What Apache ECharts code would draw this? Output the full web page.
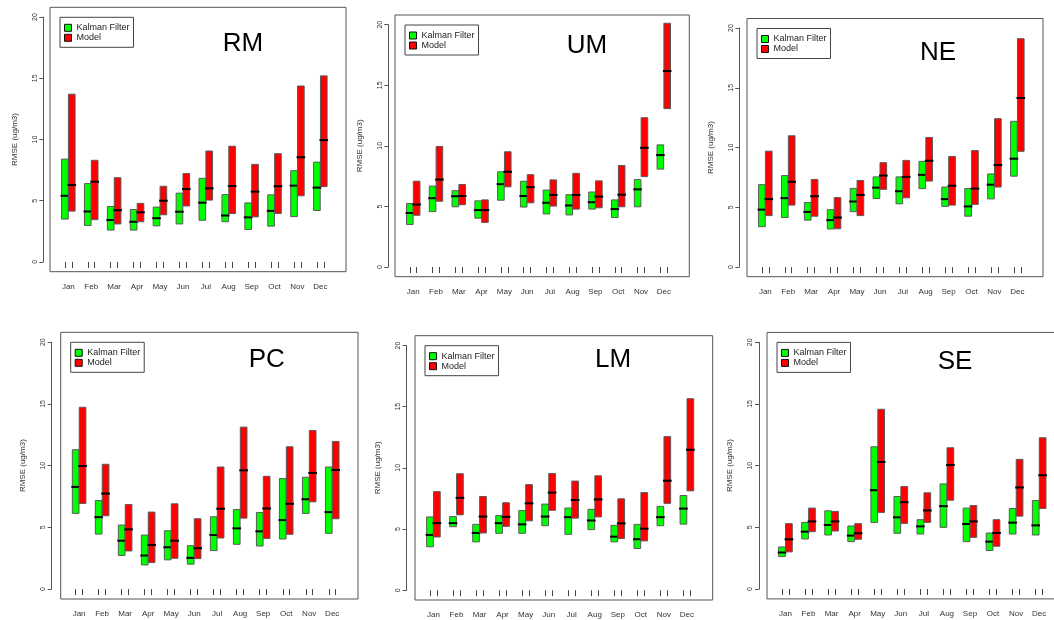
<!DOCTYPE html>
<html>
<head>
<meta charset="utf-8">
<title>Monthly RMSE – Kalman Filter vs Model</title>
<script src="https://cdn.jsdelivr.net/npm/echarts@6.0.0/dist/echarts.min.js"></script>
<style>
  html, body { margin: 0; padding: 0; background: #fff; }
  #chart { width: 1054px; height: 620px; }
</style>
</head>
<body>
<div id="chart"></div>
<script>
// Month labels on each x axis
const MONTHS = ['Jan', 'Feb', 'Mar', 'Apr', 'May', 'Jun', 'Jul', 'Aug', 'Sep', 'Oct', 'Nov', 'Dec'];
const SERIES_NAMES = ['Kalman Filter', 'Model'];
const Y_TICKS = [0, 5, 10, 15, 20];

// Each row: [lower quartile, median, upper quartile] of RMSE (ug/m3), Jan..Dec
const rmKalman = [[3.50,5.40,8.40],[2.98,4.12,6.40],[2.60,3.42,4.53],[2.60,3.28,4.28],[2.95,3.57,4.48],[3.10,4.10,5.62],
                  [3.40,4.84,6.83],[3.28,3.79,5.50],[2.65,3.64,4.82],[2.92,4.17,5.48],[3.70,6.23,7.45],[4.20,6.07,8.15]];
const rmModel  = [[4.15,6.28,13.70],[3.45,6.55,8.30],[3.10,4.22,6.88],[3.28,4.05,4.78],[3.85,5.00,6.18],[4.57,5.95,7.22],
                  [5.05,6.01,9.06],[3.95,6.20,9.45],[3.68,5.74,7.97],[3.96,6.18,8.84],[5.40,8.55,14.37],[6.15,9.95,15.20]];

const umKalman = [[3.51,4.46,5.24],[4.57,5.68,6.68],[4.97,5.84,6.30],[4.03,4.70,5.46],[5.51,6.84,7.86],[4.95,5.86,7.08],
                  [4.38,5.30,6.35],[4.30,5.08,5.97],[4.78,5.35,6.19],[4.08,4.78,5.54],[4.97,6.41,7.22],[8.08,9.24,10.08]];
const umModel  = [[4.27,5.16,7.08],[5.43,7.22,9.95],[5.14,5.86,6.81],[3.68,4.70,5.54],[6.62,7.86,9.51],[5.30,6.59,7.62],
                  [5.03,5.95,7.19],[4.78,5.95,7.73],[4.89,5.81,7.11],[4.97,5.97,8.38],[7.46,9.84,12.32],[13.07,16.18,20.12]];

const neKalman = [[3.38,4.81,6.90],[4.15,5.77,7.66],[3.93,4.62,5.41],[3.19,3.93,4.81],[4.64,5.49,6.59],[5.74,6.65,7.55],
                  [5.30,6.35,7.55],[6.57,7.72,8.85],[5.08,5.69,6.70],[4.26,5.08,6.57],[5.71,6.90,7.80],[7.61,9.07,12.20]];
const neModel  = [[4.31,5.69,9.70],[5.19,7.14,10.99],[4.26,5.93,7.34],[3.21,4.15,5.82],[4.31,6.04,7.25],[6.51,7.66,8.74],
                  [5.80,7.55,8.93],[7.20,8.90,10.85],[5.19,6.81,9.26],[5.25,6.57,9.75],[6.70,8.54,12.42],[9.69,14.15,19.11]];

const pcKalman = [[6.13,8.28,11.29],[4.46,5.83,7.18],[2.72,3.92,5.19],[1.96,2.72,4.38],[2.37,3.39,4.73],[2.02,2.53,3.52],
                  [3.12,4.38,5.86],[3.63,4.92,6.45],[3.49,4.68,6.21],[4.06,5.59,8.95],[6.13,7.28,9.06],[4.52,6.24,9.89]];
const pcModel  = [[6.94,9.97,14.73],[5.94,7.74,10.11],[3.09,4.84,6.85],[2.15,3.58,6.24],[2.50,3.92,6.91],[2.47,3.31,5.70],
                  [4.14,6.51,9.89],[5.75,9.62,13.12],[4.11,6.53,9.14],[4.44,6.91,11.53],[7.07,9.41,12.85],[5.70,9.65,11.96]];

const lmKalman = [[3.55,4.52,5.99],[5.19,5.48,6.02],[3.95,4.68,5.38],[4.65,5.48,6.10],[4.65,5.38,6.51],[5.27,6.02,7.04],
                  [4.57,5.97,6.72],[4.95,5.70,6.61],[3.95,4.38,5.30],[3.41,4.17,5.38],[5.27,5.97,6.85],[5.40,6.67,7.74]];
const lmModel  = [[4.35,5.48,8.06],[6.16,7.55,9.52],[4.68,6.02,7.66],[5.22,5.99,7.15],[5.67,7.10,8.63],[6.53,7.98,9.54],
                  [5.89,7.37,8.92],[5.99,7.42,9.35],[4.22,5.46,7.47],[4.03,5.03,7.98],[7.10,8.95,12.55],[8.12,11.48,15.65]];

const seKalman = [[2.63,2.96,3.41],[4.06,4.65,5.40],[4.38,5.19,6.34],[3.84,4.33,5.11],[5.40,8.01,11.53],[4.52,5.81,7.50],
                  [4.46,5.08,5.62],[5.00,6.72,8.52],[3.84,5.27,6.56],[3.12,3.84,4.54],[4.46,5.38,6.53],[4.38,5.16,7.18]];
const seModel  = [[3.01,4.03,5.30],[4.65,5.48,6.56],[4.70,5.48,6.29],[4.03,4.52,5.30],[6.21,10.30,14.57],[5.32,7.04,8.31],
                  [5.40,6.37,7.80],[7.20,10.05,11.45],[4.19,5.48,6.77],[3.47,4.54,5.62],[5.91,8.23,10.51],[6.53,9.22,12.26]];

// Panel frames (pixels) and where each station label sits inside its frame
const PANELS = [
  { label: 'RM', kf: rmKalman, model: rmModel, left: 50,   top: 7.3,   width: 296,   height: 264.4, axisOffset: 6.7, tx: 193, ty: 36.7 },
  { label: 'UM', kf: umKalman, model: umModel, left: 395,  top: 15,    width: 294.3, height: 261.7, axisOffset: 6.7, tx: 192, ty: 31 },
  { label: 'NE', kf: neKalman, model: neModel, left: 747,  top: 18.5,  width: 296,   height: 258.2, axisOffset: 7.7, tx: 191, ty: 34.5 },
  { label: 'PC', kf: pcKalman, model: pcModel, left: 60.7, top: 332.3, width: 297.3, height: 266.7, axisOffset: 9,   tx: 206, ty: 27.7 },
  { label: 'LM', kf: lmKalman, model: lmModel, left: 415,  top: 335.7, width: 297.7, height: 264.3, axisOffset: 8.3, tx: 198, ty: 24.3 },
  { label: 'SE', kf: seKalman, model: seModel, left: 767,  top: 332.4, width: 298,   height: 266.5, axisOffset: 8,   tx: 188, ty: 29.3 }
];

const GREEN = '#00ff00';
const RED = '#ff0000';
const FONT = 'Liberation Sans';
const X_MIN = 0.2, X_MAX = 13.12;   // month slots plus margins
const Y_PAD = 0.8;                  // 4% extension of the 0..20 range
const PAIR_SHIFT = 0.15;            // half distance between the two boxes of a month
const BOX_W = 0.29;                 // box width in month units

// Box with a bold median bar, drawn through the grid's own scales
function boxRenderer(shift, fill) {
  return function (params, api) {
    const x = api.value(0) + shift;
    const q1 = api.value(1), med = api.value(2), q3 = api.value(3);
    const tl = api.coord([x - BOX_W / 2, q3]);
    const br = api.coord([x + BOX_W / 2, q1]);
    const ml = api.coord([x - BOX_W / 2, med]);
    const mr = api.coord([x + BOX_W / 2, med]);
    return {
      type: 'group',
      children: [
        { type: 'rect',
          shape: { x: tl[0], y: tl[1], width: br[0] - tl[0], height: br[1] - tl[1] },
          style: { fill: fill, stroke: '#5a5a5a', lineWidth: 1 } },
        { type: 'line',
          shape: { x1: ml[0] - 1, y1: ml[1], x2: mr[0] + 1, y2: mr[1] },
          style: { stroke: '#000', lineWidth: 2 } }
      ]
    };
  };
}

const grids = [], xAxes = [], yAxes = [], series = [], legends = [], texts = [];
const boxTicks = [];
MONTHS.forEach((m, i) => { boxTicks.push(i + 1 - PAIR_SHIFT, i + 1 + PAIR_SHIFT); });
const monthCenters = MONTHS.map((m, i) => i + 1);

PANELS.forEach((p, k) => {
  const ppu = p.height / (20 + 2 * Y_PAD);
  // frame grid holding the boxes
  grids.push({ left: p.left, top: p.top, width: p.width, height: p.height,
               show: true, borderColor: '#555', borderWidth: 1, backgroundColor: 'transparent',
               containLabel: false, outerBoundsMode: 'none' });
  // grid used only for the 0..20 y axis line
  grids.push({ left: p.left, top: p.top + Y_PAD * ppu, width: p.width, height: 20 * ppu,
               show: false, containLabel: false, outerBoundsMode: 'none' });
  const gMain = 2 * k, gAxis = 2 * k + 1;

  xAxes.push({
    gridIndex: gMain, type: 'value', min: X_MIN, max: X_MAX, offset: 1,
    axisLine: { show: false }, splitLine: { show: false },
    axisTick: { show: true, customValues: boxTicks, length: 6, lineStyle: { color: '#444', width: 1 } },
    axisLabel: { show: true, customValues: monthCenters, margin: 10, fontSize: 8, color: '#333', fontFamily: FONT,
                 formatter: v => MONTHS[Math.round(v) - 1] || '' }
  });
  xAxes.push({ gridIndex: gAxis, type: 'value', min: X_MIN, max: X_MAX, show: false });

  yAxes.push({ gridIndex: gMain, type: 'value', min: -Y_PAD, max: 20 + Y_PAD, show: false, splitLine: { show: false } });
  yAxes.push({
    gridIndex: gAxis, type: 'value', min: 0, max: 20, interval: 5, position: 'left', offset: p.axisOffset,
    name: 'RMSE (ug/m3)', nameLocation: 'middle', nameRotate: 90, nameGap: 25,
    nameTextStyle: { fontSize: 8, color: '#333', fontFamily: FONT },
    axisLine: { show: true, lineStyle: { color: '#555', width: 1 } },
    axisTick: { show: true, length: 4, lineStyle: { color: '#555', width: 1 }, customValues: Y_TICKS },
    axisLabel: { show: true, rotate: 90, fontSize: 7, color: '#333', margin: 5, fontFamily: FONT, customValues: Y_TICKS },
    splitLine: { show: false }
  });

  [[p.kf, -PAIR_SHIFT, GREEN, 0], [p.model, PAIR_SHIFT, RED, 1]].forEach(([arr, shift, color, s]) => {
    series.push({
      type: 'custom', name: SERIES_NAMES[s], xAxisIndex: gMain, yAxisIndex: gMain,
      itemStyle: { color: color },
      renderItem: boxRenderer(shift, color),
      encode: { x: 0, y: [1, 2, 3] },
      data: arr.map((d, i) => [i + 1, d[0], d[1], d[2]]),
      silent: true, animation: false
    });
  });

  legends.push({
    left: p.left + 10, top: p.top + 10, orient: 'vertical', data: SERIES_NAMES,
    backgroundColor: '#fff', borderColor: '#444', borderWidth: 1, borderRadius: 0,
    padding: [6, 4, 5, 4], itemGap: 1, itemWidth: 7, itemHeight: 7, icon: 'rect',
    itemStyle: { borderColor: '#111', borderWidth: 1 },
    textStyle: { fontSize: 9, lineHeight: 9, color: '#222', fontFamily: FONT },
    selectedMode: false
  });

  texts.push({
    type: 'text', x: p.left + p.tx, y: p.top + p.ty, silent: true,
    style: { text: p.label, fontSize: 26, fontFamily: FONT, fill: '#000',
             textAlign: 'center', textVerticalAlign: 'middle' }
  });
});

const chart = echarts.init(document.getElementById('chart'), null, { renderer: 'canvas' });
chart.setOption({
  animation: false,
  backgroundColor: '#fff',
  textStyle: { fontFamily: FONT },
  grid: grids,
  xAxis: xAxes,
  yAxis: yAxes,
  legend: legends,
  series: series,
  graphic: { elements: texts }
});
</script>
</body>
</html>
